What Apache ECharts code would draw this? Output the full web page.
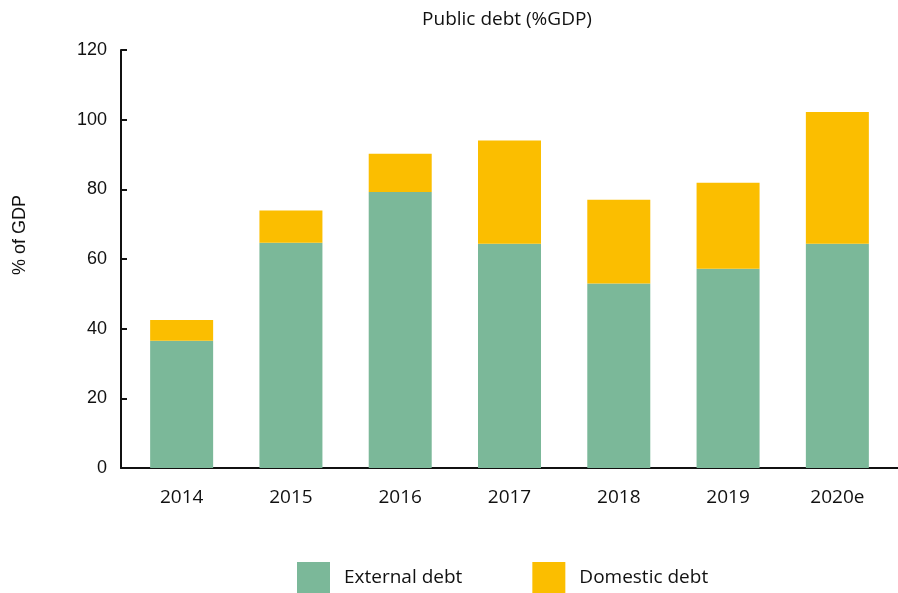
<!DOCTYPE html>
<html>
<head>
<meta charset="utf-8">
<style>
  html, body { margin: 0; padding: 0; background: #ffffff; }
  #chart { width: 898px; height: 593px; }
</style>
<script src="https://cdn.jsdelivr.net/npm/echarts@6/dist/echarts.min.js"></script>
</head>
<body>
<div id="chart"></div>
<script>
// Public debt split into external and domestic components, % of GDP
const years = ['2014', '2015', '2016', '2017', '2018', '2019', '2020e'];
const externalDebt = [36.5, 64.7, 79.2, 64.4, 53.0, 57.2, 64.4];
const domesticDebt = [6.0, 9.2, 11.0, 29.6, 24.0, 24.7, 37.8];
const yTicks = [0, 20, 40, 60, 80, 100, 120];

const FONT = '"Liberation Sans", Arial, sans-serif';
const TEXT_FONT = '"Open Sans", "Liberation Sans", sans-serif';
const GREEN = '#7bb899';
const YELLOW = '#fbbe00';

const chart = echarts.init(document.getElementById('chart'), null, { renderer: 'canvas' });

chart.setOption({
  backgroundColor: '#ffffff',
  animation: false,
  title: {
    text: 'Public debt (%GDP)',
    left: 502,
    textAlign: 'center',
    top: 5,
    textStyle: { fontFamily: TEXT_FONT, fontSize: 19, fontWeight: 'normal', color: '#111111' }
  },
  legend: {
    data: ['External debt', 'Domestic debt'],
    left: 292,
    top: 557,
    itemWidth: 33,
    itemHeight: 31,
    itemGap: 70,
    icon: 'rect',
    textStyle: { fontFamily: TEXT_FONT, fontSize: 19, color: '#111111', padding: [0, 0, 0, 9] }
  },
  grid: [
    { left: 127, right: 6, top: 50, bottom: 125 },
    { left: 121, right: 0, top: 50, bottom: 125 }
  ],
  xAxis: [
    {
      type: 'category',
      gridIndex: 0,
      data: years,
      axisLine: { show: false },
      axisTick: { show: false },
      axisLabel: { fontFamily: TEXT_FONT, fontSize: 19, color: '#111111', margin: 20 }
    },
    {
      // baseline running under the full plot width
      type: 'value',
      gridIndex: 1,
      min: 0,
      max: 1,
      axisLine: { show: true, lineStyle: { color: '#111111', width: 2 } },
      axisTick: { show: false },
      axisLabel: { show: false },
      splitLine: { show: false }
    }
  ],
  yAxis: [
    {
      type: 'value',
      gridIndex: 0,
      min: 0,
      max: 120,
      interval: 20,
      offset: 6,
      axisLine: { show: true, lineStyle: { color: '#111111', width: 2 } },
      axisTick: { show: true, inside: true, length: 6, lineStyle: { color: '#111111', width: 2 } },
      axisLabel: {
        fontFamily: FONT, fontSize: 18, color: '#111111', margin: 14,
        formatter: v => (yTicks.includes(v) ? String(v) : '')
      },
      splitLine: { show: false }
    },
    {
      type: 'value',
      gridIndex: 1,
      show: false,
      min: 0,
      max: 1
    }
  ],
  graphic: [
    {
      type: 'text',
      x: 20,
      y: 235,
      rotation: Math.PI / 2,
      style: {
        text: '% of GDP',
        fontFamily: FONT,
        fontSize: 18,
        fill: '#111111',
        align: 'center',
        verticalAlign: 'middle'
      }
    }
  ],
  series: [
    {
      name: 'External debt',
      type: 'bar',
      stack: 'debt',
      xAxisIndex: 0,
      yAxisIndex: 0,
      barWidth: 63,
      itemStyle: { color: GREEN },
      data: externalDebt
    },
    {
      name: 'Domestic debt',
      type: 'bar',
      stack: 'debt',
      xAxisIndex: 0,
      yAxisIndex: 0,
      barWidth: 63,
      itemStyle: { color: YELLOW },
      data: domesticDebt
    }
  ]
});
</script>
</body>
</html>
